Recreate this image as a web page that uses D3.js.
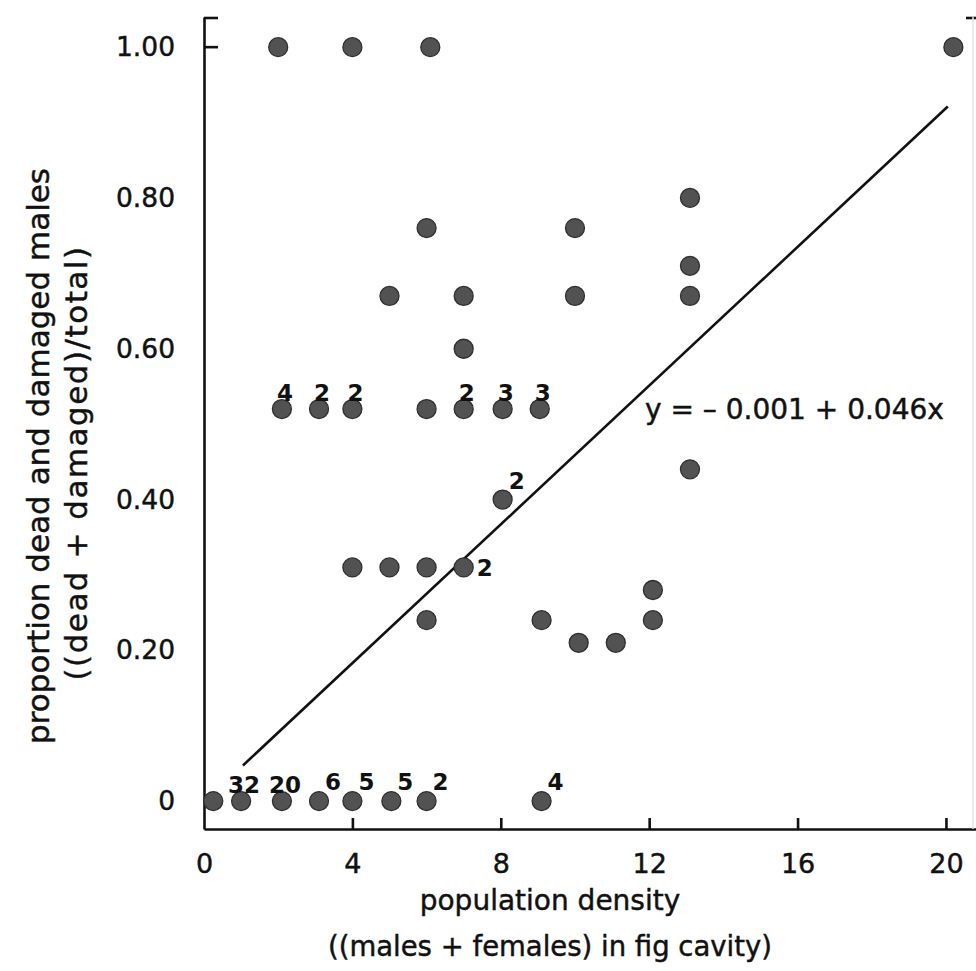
<!DOCTYPE html>
<html>
<head>
<meta charset="utf-8">
<script src="https://cdn.jsdelivr.net/npm/d3@7/dist/d3.min.js"></script>
<style>
  html, body { margin: 0; padding: 0; background: #fff; }
  svg { display: block; }
  text { font-family: "DejaVu Sans", sans-serif; fill: #111; stroke: #111; stroke-width: 0.45px; }
</style>
</head>
<body>
<svg id="chart" width="976" height="971"></svg>
<script>
// Population density (males + females per fig cavity) for each sampled cavity group
const density = [
  2, 4, 6.1, 20.2,
  6, 10,
  13.1, 13.1, 13.1,
  5, 7, 10,
  7,
  2.1, 3.1, 4, 6, 7, 8.05, 9.05,
  8.05,
  4, 5, 6, 7,
  6, 9.1, 12.1, 12.1, 10.1, 11.1, 13.1,
  0.25, 1, 2.1, 3.1, 4, 5.05, 6, 9.1
];
// Proportion of males dead or damaged
const proportion = [
  1.00, 1.00, 1.00, 1.00,
  0.76, 0.76,
  0.80, 0.71, 0.67,
  0.67, 0.67, 0.67,
  0.60,
  0.52, 0.52, 0.52, 0.52, 0.52, 0.52, 0.52,
  0.40,
  0.31, 0.31, 0.31, 0.31,
  0.24, 0.24, 0.28, 0.24, 0.21, 0.21, 0.44,
  0, 0, 0, 0, 0, 0, 0, 0
];
// Number of coincident observations at a point ("" = single observation)
const overlapCount = [
  "", "", "", "",
  "", "",
  "", "", "",
  "", "", "",
  "",
  "4", "2", "2", "", "2", "3", "3",
  "2",
  "", "", "", "2",
  "", "", "", "", "", "", "",
  "", "32", "20", "6", "5", "5", "2", "4"
];
// Where each count sits relative to its dot
const countSide = [
  "", "", "", "",
  "", "",
  "", "", "",
  "", "", "",
  "",
  "above", "above", "above", "", "above", "above", "above",
  "upright",
  "", "", "", "right",
  "", "", "", "", "", "", "",
  "", "above", "above", "upright", "upright", "upright", "upright", "upright"
];

const xTicks = [0, 4, 8, 12, 16, 20];
const yTicks = [0, 0.2, 0.4, 0.6, 0.8, 1.0];

// Fitted regression: y = intercept + slope * x
const intercept = -0.001;
const slope = 0.046;
const fitRange = [1.05, 20.05];

const svg = d3.select("#chart");

const x = d3.scaleLinear().domain([0, 20.81]).range([204, 976]);
const y = d3.scaleLinear().domain([-0.037, 1.04]).range([829, 17]);

const axisColor = "#111";
const axisWidth = 2.6;

// x axis: ticks point inward (up)
const xAxis = svg.append("g")
  .attr("transform", `translate(0,${y(-0.037)})`)
  .call(d3.axisBottom(x)
    .tickValues(xTicks)
    .tickSize(-11)
    .tickSizeOuter(0)
    .tickPadding(25)
    .tickFormat(d3.format("d")));
xAxis.select(".domain").attr("stroke", axisColor).attr("stroke-width", axisWidth);
xAxis.selectAll(".tick line")
  .attr("stroke", axisColor).attr("stroke-width", axisWidth)
  .attr("display", d => d === 0 ? "none" : null);
xAxis.selectAll(".tick text")
  .style("font-family", "'DejaVu Sans', sans-serif")
  .style("font-size", "27px")
  .attr("fill", "#111");

// y axis: labels only, one inward tick at 1.00 plus a cap at the top
const yAxis = svg.append("g")
  .attr("transform", `translate(${x(0)},0)`)
  .call(d3.axisLeft(y)
    .tickValues(yTicks)
    .tickSize(0)
    .tickSizeOuter(0)
    .tickPadding(29)
    .tickFormat(d => d === 0 ? "0" : d.toFixed(2)));
yAxis.select(".domain").attr("stroke", axisColor).attr("stroke-width", axisWidth);
yAxis.selectAll(".tick text")
  .style("font-family", "'DejaVu Sans', sans-serif")
  .style("font-size", "26.5px")
  .attr("fill", "#111");

yAxis.append("line")
  .attr("x1", 0).attr("x2", 14)
  .attr("y1", y(1)).attr("y2", y(1))
  .attr("stroke", axisColor).attr("stroke-width", axisWidth);
yAxis.append("line")
  .attr("x1", 0).attr("x2", 14)
  .attr("y1", y(1.04) + 1).attr("y2", y(1.04) + 1)
  .attr("stroke", axisColor).attr("stroke-width", axisWidth);

// right frame edge (only its top corner is inside the view)
svg.append("line")
  .attr("x1", 966).attr("x2", 976)
  .attr("y1", y(1.04) + 1).attr("y2", y(1.04) + 1)
  .attr("stroke", axisColor).attr("stroke-width", axisWidth);
svg.append("line")
  .attr("x1", 973).attr("x2", 973)
  .attr("y1", y(1.04)).attr("y2", y(-0.037))
  .attr("stroke", "#e6e6e6").attr("stroke-width", 1.5);

// regression line
svg.append("line")
  .attr("x1", x(fitRange[0])).attr("y1", y(intercept + slope * fitRange[0]))
  .attr("x2", x(fitRange[1])).attr("y2", y(intercept + slope * fitRange[1]))
  .attr("stroke", "#111").attr("stroke-width", 2.6);

// observations
const points = density.map((d, i) => ({
  x: d, y: proportion[i], n: overlapCount[i], side: countSide[i]
}));

svg.append("g").selectAll("circle")
  .data(points)
  .join("circle")
  .attr("cx", d => x(d.x))
  .attr("cy", d => y(d.y))
  .attr("r", 9.5)
  .attr("fill", "#525252")
  .attr("stroke", "#2f2f2f")
  .attr("stroke-width", 1.3);

// counts of coincident points
svg.append("g").selectAll("text")
  .data(points.filter(d => d.n !== ""))
  .join("text")
  .attr("x", d => x(d.x) + (d.side === "above" ? 3 : d.side === "right" ? 13 : 6))
  .attr("y", d => y(d.y) + (d.side === "above" ? -8 : d.side === "right" ? 9 : -11))
  .attr("text-anchor", d => d.side === "above" ? "middle" : "start")
  .style("font-size", "23px")
  .style("font-weight", "bold")
  .style("stroke-width", "0px")
  .text(d => d.n);

// regression equation
svg.append("text")
  .attr("x", 645)
  .attr("y", y(0.52) + 10)
  .style("font-size", "28px")
  .text("y = – 0.001 + 0.046x");

// axis titles
svg.append("text")
  .attr("x", 550).attr("y", 910)
  .attr("text-anchor", "middle")
  .style("font-size", "28px")
  .text("population density");
svg.append("text")
  .attr("x", 550).attr("y", 956)
  .attr("text-anchor", "middle")
  .style("font-size", "27.5px")
  .text("((males + females) in fig cavity)");

svg.append("text")
  .attr("transform", "translate(49,456) rotate(-90)")
  .attr("text-anchor", "middle")
  .style("font-size", "31px")
  .text("proportion dead and damaged males");
svg.append("text")
  .attr("transform", "translate(87,463) rotate(-90)")
  .attr("text-anchor", "middle")
  .style("font-size", "31px")
  .style("letter-spacing", "1.5px")
  .text("((dead + damaged)/total)");
</script>
</body>
</html>
